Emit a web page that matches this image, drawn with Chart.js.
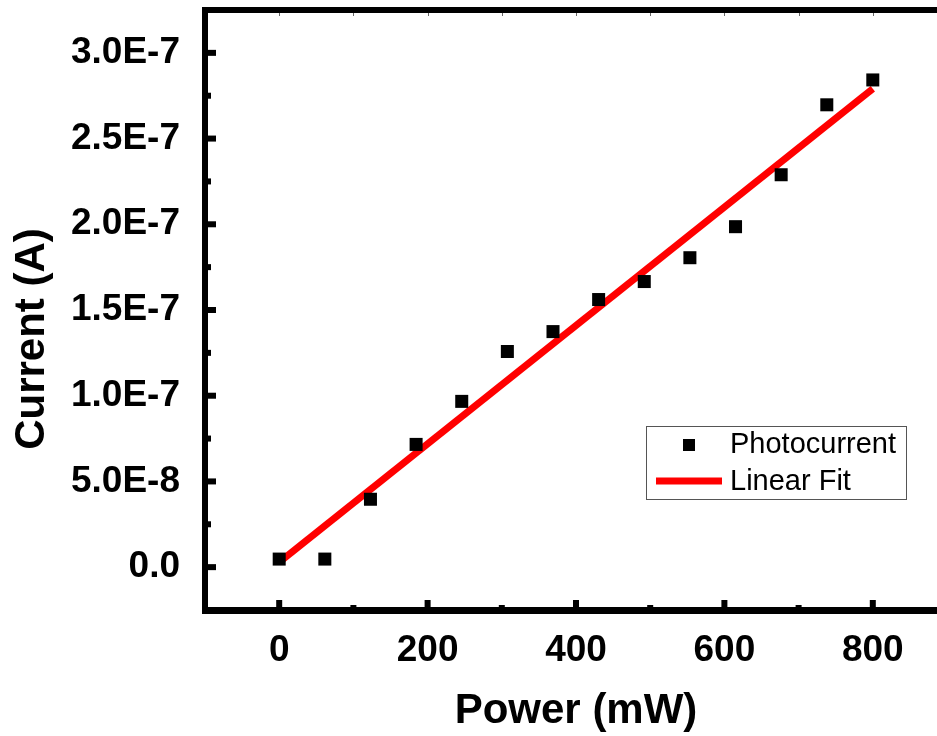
<!DOCTYPE html>
<html>
<head>
<meta charset="utf-8">
<script src="https://cdn.jsdelivr.net/npm/chart.js@4/dist/chart.umd.min.js"></script>
<style>
  html, body { margin: 0; padding: 0; overflow: hidden; background: #fff; }
  #wrap { width: 960px; height: 736px; }
</style>
</head>
<body>
<div id="wrap"><canvas id="chart" width="960" height="736"></canvas></div>
<script>
// измерения фототока
const powerMW = [0, 61.5, 123, 184.5, 246, 307.5, 369, 430.5, 492, 553.5, 615, 676.5, 738, 800];
const currentA = [4.7e-9, 4.7e-9, 3.96e-8, 7.16e-8, 9.67e-8, 1.258e-7, 1.374e-7, 1.561e-7,
  1.666e-7, 1.805e-7, 1.986e-7, 2.289e-7, 2.697e-7, 2.842e-7];

// линейная аппроксимация (концы прямой)
const fitX = [0, 800];
const fitY = [2.9e-9, 2.79e-7];

// подписи осей
const xTicks = [0, 200, 400, 600, 800];
const xMinorTicks = [100, 300, 500, 700];
const yTicks = [0, 5e-8, 1e-7, 1.5e-7, 2e-7, 2.5e-7, 3e-7];
const yTickLabels = ["0.0", "5.0E-8", "1.0E-7", "1.5E-7", "2.0E-7", "2.5E-7", "3.0E-7"];
const yMinorTicks = [2.5e-8, 7.5e-8, 1.25e-7, 1.75e-7, 2.25e-7, 2.75e-7];

const FONT = "Arial, 'Liberation Sans', sans-serif";

// рамка, засечки внутрь, подписи осей и легенда
const frame = {
  id: "frame",
  afterDatasetsDraw(chart) {
    const ctx = chart.ctx;
    const a = chart.chartArea;
    const xs = chart.scales.x;
    const ys = chart.scales.y;
    ctx.save();
    ctx.fillStyle = "#000";

    // оси
    ctx.fillRect(a.left - 3, a.top - 3, 6, a.bottom - a.top + 6);
    ctx.fillRect(a.left - 3, a.bottom - 3, chart.width - a.left + 3, 7);
    ctx.fillRect(a.left - 3, a.top - 3, chart.width - a.left + 3, 6);

    // засечки по Y
    yTicks.forEach((v) => {
      const y = ys.getPixelForValue(v);
      ctx.fillRect(a.left + 3, y - 3, 8, 6);
    });
    yMinorTicks.forEach((v) => {
      const y = ys.getPixelForValue(v);
      ctx.fillRect(a.left + 3, y - 3, 3, 6);
    });
    // засечки по X
    xTicks.forEach((v) => {
      const x = xs.getPixelForValue(v);
      ctx.fillRect(x - 3, a.bottom - 10, 6, 8);
    });
    xMinorTicks.forEach((v) => {
      const x = xs.getPixelForValue(v);
      ctx.fillRect(x - 3, a.bottom - 5, 6, 3);
    });
    // тонкие засечки сверху
    ctx.strokeStyle = "#666";
    ctx.lineWidth = 1;
    xTicks.concat(xMinorTicks).forEach((v) => {
      const x = Math.round(xs.getPixelForValue(v)) + 0.5;
      ctx.beginPath();
      ctx.moveTo(x, a.top + 3);
      ctx.lineTo(x, a.top + 6);
      ctx.stroke();
    });

    // названия осей
    ctx.fillStyle = "#000";
    ctx.font = "bold 42px " + FONT;
    ctx.textAlign = "center";
    ctx.textBaseline = "alphabetic";
    ctx.fillText("Power (mW)", (a.left + a.right) / 2, 723);
    ctx.save();
    ctx.translate(44, 339);
    ctx.rotate(-Math.PI / 2);
    ctx.fillText("Current (A)", 0, 0);
    ctx.restore();

    // легенда
    const lx = 646, ly = 426, lw = 260, lh = 73;
    ctx.fillStyle = "#fff";
    ctx.fillRect(lx, ly, lw, lh);
    ctx.strokeStyle = "#555";
    ctx.lineWidth = 1;
    ctx.strokeRect(lx + 0.5, ly + 0.5, lw, lh);
    ctx.fillStyle = "#000";
    ctx.fillRect(683, 439, 12, 12);
    ctx.strokeStyle = "#ff0000";
    ctx.lineWidth = 7;
    ctx.beginPath();
    ctx.moveTo(656, 481);
    ctx.lineTo(722, 481);
    ctx.stroke();
    ctx.fillStyle = "#000";
    ctx.font = "29px " + FONT;
    ctx.textAlign = "left";
    ctx.textBaseline = "middle";
    ctx.fillText("Photocurrent", 730, 445);
    ctx.fillText("Linear Fit", 730, 482);
    ctx.restore();
  },
};

const ctx = document.getElementById("chart").getContext("2d");
const chart = new Chart(ctx, {
  type: "scatter",
  data: {
    datasets: [
      {
        label: "Linear Fit",
        data: fitX.map((x, i) => ({ x: x, y: fitY[i] })),
        showLine: true,
        borderColor: "#ff0000",
        borderWidth: 7,
        borderCapStyle: "butt",
        pointRadius: 0,
        order: 2,
      },
      {
        label: "Photocurrent",
        data: powerMW.map((x, i) => ({ x: x, y: currentA[i] })),
        pointStyle: "rect",
        pointRadius: 9.2,
        pointHoverRadius: 9.2,
        backgroundColor: "#000",
        borderWidth: 0,
        order: 1,
      },
    ],
  },
  options: {
    responsive: false,
    animation: false,
    events: [],
    layout: { padding: { top: 10, right: 13, left: 0, bottom: 0 } },
    plugins: { legend: { display: false }, tooltip: { enabled: false } },
    scales: {
      x: {
        type: "linear",
        min: -100,
        max: 900,
        afterBuildTicks: (s) => { s.ticks = xTicks.map((v) => ({ value: v })); },
        afterFit: (s) => {
          s.height = 126;
          s.paddingLeft = 0;
          s.paddingRight = 0;
        },
        grid: { display: false },
        border: { display: false },
        ticks: {
          color: "#000",
          padding: 11,
          maxRotation: 0,
          font: { family: FONT, size: 37, weight: "bold" },
          callback: (v) => String(v),
        },
      },
      y: {
        type: "linear",
        min: -2.5e-8,
        max: 3.25e-7,
        afterBuildTicks: (s) => { s.ticks = yTicks.map((v) => ({ value: v })); },
        afterFit: (s) => {
          s.width = 205;
          s.paddingTop = 0;
          s.paddingBottom = 0;
        },
        grid: { display: false },
        border: { display: false },
        ticks: {
          color: "#000",
          padding: 17,
          font: { family: FONT, size: 37, weight: "bold" },
          callback: (v, i) => yTickLabels[i],
        },
      },
    },
  },
  plugins: [frame],
});
</script>
</body>
</html>
